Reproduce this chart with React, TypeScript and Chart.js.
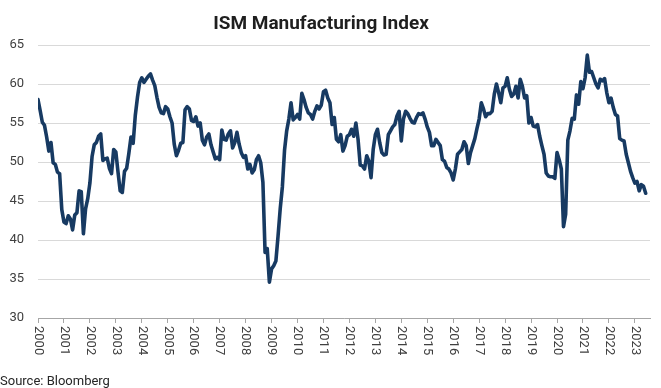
import React, { useEffect, useRef } from "react";
import { Chart, registerables } from "chart.js";

Chart.register(...registerables);

const chartTitle = "ISM Manufacturing Index";
const sourceNote = "Source: Bloomberg";

const yearLabels = [
  "2000", "2001", "2002", "2003", "2004", "2005", "2006", "2007",
  "2008", "2009", "2010", "2011", "2012", "2013", "2014", "2015",
  "2016", "2017", "2018", "2019", "2020", "2021", "2022", "2023",
];
const yTickValues = [30, 35, 40, 45, 50, 55, 60, 65];

// Monthly ISM Manufacturing PMI, Jan 2000 – Jun 2023
const ism2000 = [58.0, 56.6, 55.1, 54.7, 53.2, 51.4, 52.5, 49.9, 49.7, 48.7, 48.5, 43.9];
const ism2001 = [42.3, 42.1, 43.1, 42.7, 41.3, 43.2, 43.5, 46.3, 46.2, 40.8, 44.0, 45.3];
const ism2002 = [47.3, 50.7, 52.2, 52.5, 53.3, 53.6, 50.2, 50.4, 50.5, 49.2, 48.5, 51.6];
const ism2003 = [51.3, 48.7, 46.3, 46.1, 48.8, 49.2, 51.1, 53.2, 52.4, 56.0, 58.3, 60.2];
const ism2004 = [60.8, 60.2, 60.6, 61.0, 61.3, 60.5, 59.8, 58.3, 57.0, 56.3, 56.2, 57.1];
const ism2005 = [56.8, 55.8, 55.0, 52.3, 50.8, 51.5, 52.4, 52.5, 56.7, 57.1, 56.8, 55.3];
const ism2006 = [55.2, 55.8, 54.6, 55.0, 52.8, 52.2, 53.2, 53.6, 52.2, 51.3, 50.4, 50.6];
const ism2007 = [50.3, 54.1, 52.9, 52.8, 53.6, 54.0, 51.8, 52.5, 53.8, 52.3, 51.2, 50.6];
const ism2008 = [50.8, 49.1, 49.7, 48.6, 49.0, 50.3, 50.8, 49.9, 47.4, 38.4, 38.9, 34.6];
const ism2009 = [36.3, 36.7, 37.3, 40.5, 44.0, 46.8, 51.5, 54.0, 55.5, 57.6, 55.4, 55.7];
const ism2010 = [56.1, 55.5, 58.8, 58.0, 57.0, 56.3, 56.1, 55.5, 56.5, 57.2, 56.8, 57.3];
const ism2011 = [59.0, 59.2, 58.2, 57.6, 54.8, 55.7, 52.9, 52.6, 53.5, 51.4, 52.1, 53.3];
const ism2012 = [53.5, 54.2, 53.3, 55.0, 52.9, 49.6, 49.5, 49.1, 50.8, 50.1, 48.0, 51.6];
const ism2013 = [53.5, 54.2, 52.5, 51.2, 50.9, 51.0, 53.5, 54.0, 54.5, 54.8, 55.9, 56.5];
const ism2014 = [52.7, 55.5, 56.5, 56.2, 55.6, 55.1, 55.0, 55.7, 56.2, 56.1, 56.3, 55.5];
const ism2015 = [54.5, 53.8, 52.1, 52.1, 52.9, 52.5, 52.1, 50.3, 50.1, 49.3, 49.1, 48.6];
const ism2016 = [47.7, 49.1, 51.0, 51.3, 51.6, 52.6, 52.1, 49.8, 51.2, 52.1, 53.0, 54.3];
const ism2017 = [55.5, 57.6, 56.8, 55.8, 56.2, 56.2, 56.5, 58.7, 60.0, 58.9, 57.6, 59.5];
const ism2018 = [59.7, 60.8, 59.3, 58.4, 58.7, 59.7, 58.2, 60.6, 59.7, 58.2, 58.5, 55.0];
const ism2019 = [55.7, 54.6, 54.5, 54.8, 53.3, 52.1, 51.0, 48.6, 48.2, 48.1, 48.1, 47.9];
const ism2020 = [51.2, 50.3, 49.1, 41.7, 43.3, 52.8, 54.0, 55.6, 55.5, 58.6, 57.4, 60.3];
const ism2021 = [59.4, 60.8, 63.7, 61.5, 61.6, 60.8, 60.0, 59.5, 60.6, 60.4, 60.7, 58.9];
const ism2022 = [57.6, 58.2, 57.0, 56.1, 55.9, 53.0, 52.8, 52.7, 51.0, 49.9, 48.8, 48.0];
const ism2023 = [47.3, 47.5, 46.3, 47.1, 46.9, 46.0];

const ismSeries = [
  ...ism2000, ...ism2001, ...ism2002, ...ism2003, ...ism2004, ...ism2005,
  ...ism2006, ...ism2007, ...ism2008, ...ism2009, ...ism2010, ...ism2011,
  ...ism2012, ...ism2013, ...ism2014, ...ism2015, ...ism2016, ...ism2017,
  ...ism2018, ...ism2019, ...ism2020, ...ism2021, ...ism2022, ...ism2023,
];

const LINE_COLOR = "#173a62";
const TEXT_COLOR = "#404040";

const decorations = {
  id: "decorations",
  afterDraw(chart: any) {
    const { ctx, scales, chartArea } = chart;
    const xs = scales.x;
    ctx.save();
    // Title
    ctx.fillStyle = "#1f1f1f";
    ctx.font = "bold 19px Roboto";
    ctx.textAlign = "center";
    ctx.textBaseline = "alphabetic";
    ctx.fillText(chartTitle, 321, 28.5);
    // Year labels, rotated clockwise
    ctx.font = "13px Roboto";
    ctx.fillStyle = TEXT_COLOR;
    yearLabels.forEach((lab, i) => {
      const px = xs.getPixelForValue(i * 12);
      ctx.save();
      ctx.translate(px, chartArea.bottom + 8);
      ctx.rotate(Math.PI / 2);
      ctx.textAlign = "left";
      ctx.textBaseline = "middle";
      ctx.fillText(lab, 0, 0);
      ctx.restore();
    });
    // Source
    ctx.textAlign = "left";
    ctx.textBaseline = "alphabetic";
    ctx.fillStyle = "#262626";
    ctx.fillText(sourceNote, 0, 384.5);
    ctx.restore();
  },
};

export default function App() {
  const canvasRef = useRef<HTMLCanvasElement | null>(null);

  useEffect(() => {
    const canvas = canvasRef.current;
    if (!canvas) return;
    const chart = new Chart(canvas, {
      type: "line",
      data: {
        datasets: [
          {
            label: "ISM Manufacturing Index",
            data: ismSeries.map((v, i) => ({ x: i, y: v })),
            borderColor: LINE_COLOR,
            backgroundColor: LINE_COLOR,
            borderWidth: 3.6,
            pointRadius: 0,
            pointHoverRadius: 0,
            tension: 0,
            borderJoinStyle: "round",
            borderCapStyle: "round",
            fill: false,
          },
        ],
      },
      options: {
        responsive: false,
        animation: false,
        devicePixelRatio: 1,
        layout: { padding: { top: 45, right: 11, bottom: 0, left: 0 } },
        plugins: {
          legend: { display: false },
          title: { display: false },
          tooltip: { enabled: false },
        },
        events: [],
        scales: {
          x: {
            type: "linear",
            min: 0,
            max: 283,
            afterBuildTicks: (scale: any) => {
              scale.ticks = yearLabels.map((_, i) => ({ value: i * 12 }));
            },
            afterFit: (scale: any) => {
              scale.height = 70;
            },
            ticks: { display: false },
            grid: {
              display: true,
              drawOnChartArea: false,
              drawTicks: true,
              tickLength: 5,
              color: "#a6a6a6",
              lineWidth: 1,
            },
            border: { display: true, color: "#a6a6a6", width: 1 },
          },
          y: {
            type: "linear",
            min: 30,
            max: 65,
            afterBuildTicks: (scale: any) => {
              scale.ticks = yTickValues.map((v) => ({ value: v }));
            },
            afterFit: (scale: any) => {
              scale.width = 38;
            },
            ticks: {
              padding: 14,
              color: TEXT_COLOR,
              font: { family: "Roboto", size: 13 },
            },
            grid: {
              color: "#d9d9d9",
              lineWidth: 1,
              drawTicks: false,
            },
            border: { display: false },
          },
        },
      },
      plugins: [decorations],
    });
    return () => chart.destroy();
  }, []);

  return (
    <div style={{ position: "fixed", left: 0, top: 0, width: 661, height: 388, background: "#ffffff" }}>
      <canvas ref={canvasRef} width={661} height={388} style={{ display: "block" }} />
    </div>
  );
}
